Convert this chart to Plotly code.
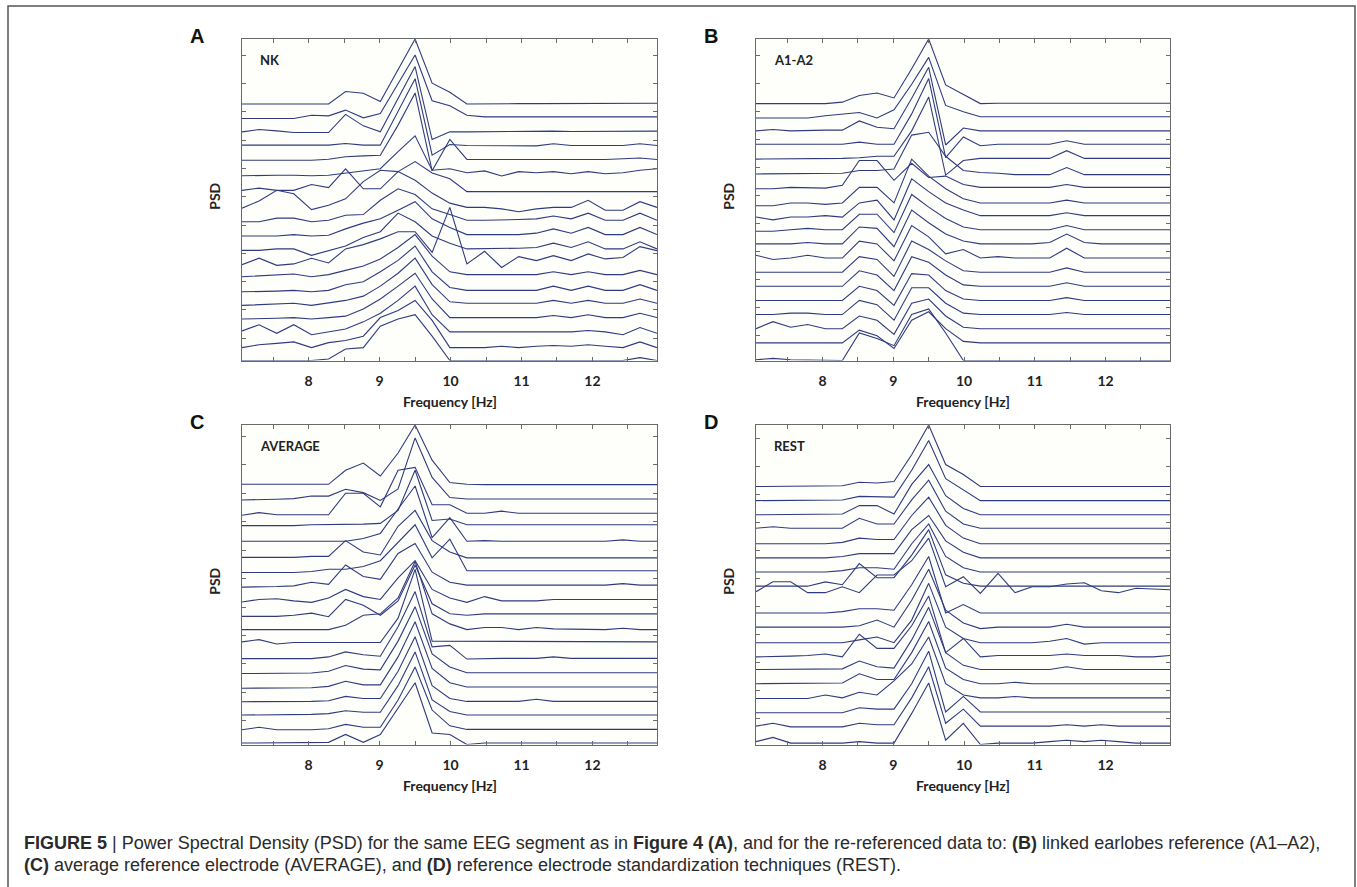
import plotly.graph_objects as go

# ---------------- data ----------------
FREQ = [7.06, 7.30, 7.55, 7.79, 8.04, 8.28, 8.52, 8.77, 9.01, 9.26, 9.50, 9.74, 9.99,
        10.23, 10.48, 10.72, 10.96, 11.21, 11.45, 11.70, 11.94, 12.18, 12.43, 12.67, 12.91]
X_TICKS = [7.5, 8, 8.5, 9, 9.5, 10, 10.5, 11, 11.5, 12, 12.5]
X_TICK_TEXT = ["", "8", "", "9", "", "10", "", "11", "", "12", ""]
STACK_STEP = 1.0

# PSD of each channel (bottom channel first), arbitrary units
NK = [
    [.3,.3,.3,.35,.3,.4,1.1,1.2,2.7,3.2,3.5,2.0,.3,.3,.3,.3,.3,.3,.3,.3,.3,.3,.3,.5,.3],
    [.2,.4,.5,.6,.2,.55,.7,1.0,2.3,2.8,3.5,2.1,.2,.2,.2,.3,.2,.3,.35,.3,.4,.3,.2,.6,.2],
    [.37,.8,.2,.8,.1,.3,.5,1.0,1.6,2.5,3.5,1.5,.3,.3,.3,.3,.3,.3,.3,.3,.4,.3,.1,.6,.2],
    [.2,.2,.25,.3,.2,.3,.4,.9,1.6,2.5,3.4,1.6,.3,.3,.3,.3,.3,.3,.45,.3,.5,.3,.3,.6,.3],
    [.15,.2,.25,.3,.15,.3,.5,.8,1.5,2.4,3.45,1.6,.4,.3,.3,.3,.3,.3,.5,.3,.5,.3,.3,.6,.3],
    [.1,.1,.15,.2,.1,.2,.6,.8,1.5,2.3,3.3,1.5,.4,.2,.2,.2,.2,.2,.5,.2,.5,.2,.2,.6,.2],
    [.15,.2,.25,.35,.15,.3,.6,.9,1.4,2.2,3.1,1.6,.5,.3,.3,.3,.3,.3,.5,.3,.5,.3,.3,.6,.3],
    [0,.45,-.05,.05,.45,.12,1.1,1.4,1.8,2.3,2.3,.86,4.0,.05,.93,-.2,.56,.28,.63,.28,.75,.4,.5,1.26,.98],
    [0,0,.1,.1,-.35,0,.3,.9,1.3,2.6,2.0,1.0,.5,.1,.1,.1,.15,.2,.5,.2,.6,.1,.1,.6,.1],
    [0,0,0,.1,0,.05,.5,.9,1.2,1.8,2.4,1.2,.6,.1,.1,.1,.1,.2,.5,.2,.6,.1,.1,.6,.1],
    [0,.0,.25,.25,0,.1,.45,.5,1.5,2.3,1.9,.9,.5,.1,.1,.1,.15,.2,.4,.2,.6,.1,.1,.6,.1],
    [-.05,.45,1.2,.95,-.15,.15,.6,1.8,2.6,2.5,1.9,1.0,.3,.0,.0,-.1,-.3,-.1,.0,.0,.5,-.2,-.2,.4,0],
    [.19,.35,.19,.19,.6,.38,1.7,.3,.3,1.5,2.2,1.4,1.0,.1,.1,.1,.1,.1,.1,.1,.1,.1,.1,.1,.1],
    [.21,.25,.25,.25,.21,.25,.4,.55,.7,1.9,3.0,.6,.7,.42,.55,.2,.5,.42,.5,.35,.5,.35,.42,.6,.7],
    [.3,.3,.3,.3,.3,.37,.54,.6,.65,2.75,5.0,-.44,1.75,.35,.35,.35,.3,.35,.35,.35,.35,.35,.4,.45,.35],
    [.35,.35,.35,.3,.3,.35,.47,.35,.35,2.7,5.0,-.35,.4,.33,.33,.35,.3,.3,.45,.33,.33,.33,.33,.45,.33],
    [.28,.44,.35,.23,.23,.23,1.5,.7,.28,2.6,4.84,-.26,.28,.28,.3,.3,.33,.35,.33,.3,.3,.33,.33,.33,.33],
    [.21,.21,.21,.21,.44,.4,.8,.26,.56,2.6,4.65,1.45,1.1,.44,.33,.33,.33,.35,.33,.33,.33,.33,.33,.33,.33],
    [.23,.23,.23,.23,.23,.23,1.1,.98,.4,2.6,4.77,1.68,1.05,.23,.25,.25,.25,.25,.25,.25,.25,.25,.25,.25,.28],
]

A1A2 = [
    [.1,.2,.1,.1,.05,.05,2.0,1.6,1.1,3.3,3.7,2.0,.05,.05,.05,.05,.05,.05,.05,.05,.05,.05,.05,.05,.05],
    [.3,.3,.3,.3,.3,.3,1.2,.8,-.1,1.9,2.5,1.3,.4,.3,.3,.3,.3,.3,.3,.3,.3,.3,.3,.3,.3],
    [.3,.8,.4,.6,.3,.3,1.2,.9,-.1,2.1,2.4,1.2,.4,.3,.3,.3,.3,.3,.35,.3,.3,.3,.3,.3,.3],
    [.3,.3,.4,.4,.3,.3,1.3,1.0,-.1,2.2,2.2,1.1,.4,.3,.3,.3,.3,.3,.45,.3,.3,.3,.3,.3,.3],
    [.3,.3,.3,.3,.3,.3,1.3,1.0,-.05,2.2,2.1,1.0,.4,.3,.3,.3,.3,.3,.5,.3,.3,.3,.3,.3,.3],
    [.3,.3,.3,.3,.3,.3,1.4,1.1,0,2.4,2.0,1.1,.4,.3,.3,.3,.3,.3,.55,.3,.3,.3,.3,.3,.3],
    [.3,.3,.3,.3,.3,.3,1.4,1.2,0,2.5,1.9,1.1,.4,.3,.3,.3,.3,.3,.6,.3,.3,.3,.3,.3,.3],
    [.5,.2,.3,.5,.3,.3,1.5,1.3,.1,2.6,1.8,.6,.9,.3,.4,.3,.3,.3,1.0,.3,.3,.3,.3,.3,.3],
    [.3,.3,.3,.4,.3,.3,1.5,1.4,.1,2.7,1.8,1.0,.5,.3,.3,.3,.3,.4,1.0,.4,.3,.3,.3,.3,.3],
    [.2,.2,.3,.4,.3,.3,1.4,1.4,.1,2.8,1.9,1.1,.5,.3,.3,.3,.3,.3,.6,.3,.3,.3,.3,.3,.3],
    [.2,.0,.2,.2,.3,.2,1.2,1.4,0,2.9,2.0,1.2,.7,.3,.3,.3,.3,.3,.5,.3,.3,.3,.3,.3,.3],
    [.0,.0,.2,.2,.1,.2,1.3,1.3,.2,3.3,2.1,1.2,.5,.2,.2,.2,.2,.2,.4,.2,.2,.2,.2,.2,.2],
    [.2,.2,.3,.3,.25,.45,2.2,2.2,.8,2.0,1.0,1.1,.5,.3,.3,.3,.3,.3,.5,.3,.3,.3,.3,.3,.3],
    [.25,.25,.25,.25,.3,.3,.5,.5,.6,3.0,3.2,1.5,.5,.35,.3,.2,.2,.2,.7,.2,.2,.2,.2,.2,.2],
    [.3,.3,.3,.3,.35,.35,.4,.5,.5,2.3,4.7,-.83,.2,.35,.35,.35,.35,.35,.9,.35,.35,.35,.35,.35,.35],
    [.35,.35,.35,.35,.35,.35,.5,.35,.35,2.5,5.0,-.6,.87,.25,.35,.35,.35,.35,.6,.35,.35,.35,.35,.35,.35],
    [.3,.4,.3,.35,.35,.35,1.0,.55,.45,2.6,4.8,-.7,.5,.3,.3,.3,.3,.35,.3,.3,.3,.3,.3,.3,.3],
    [.21,.21,.21,.21,.37,.49,.6,.21,.79,2.6,4.5,1.1,.65,.3,.3,.3,.3,.3,.3,.3,.3,.3,.3,.3,.3],
    [.23,.23,.23,.23,.23,.33,.8,.98,.63,2.7,4.8,1.55,.9,.23,.25,.25,.25,.25,.25,.25,.25,.25,.25,.25,.25],
]

AVERAGE = [
    [.3,.3,.3,.3,.3,.35,.9,.35,.9,2.7,4.5,1.0,.9,.2,.3,.3,.3,.3,.3,.3,.3,.3,.3,.3,.3],
    [.23,.4,.23,.23,.23,.3,.6,.4,.4,2.3,4.6,1.6,.5,.25,.25,.25,.25,.25,.25,.25,.25,.25,.25,.25,.25],
    [.25,.25,.25,.25,.3,.35,.55,.45,.45,2.3,4.65,1.3,.5,.25,.25,.25,.25,.3,.25,.25,.3,.25,.25,.25,.25],
    [.18,.18,.18,.18,.2,.25,.55,.4,.4,2.3,4.7,1.3,.4,.2,.2,.2,.2,.35,.2,.2,.2,.2,.2,.2,.2],
    [.12,.12,.12,.12,.15,.25,.6,.35,.35,2.3,4.75,1.5,.5,.2,.2,.2,.2,.2,.2,.2,.2,.2,.2,.2,.2],
    [.14,.14,.14,.14,.18,.3,.7,.45,.4,2.4,4.8,1.5,.6,.2,.2,.2,.2,.2,.2,.2,.2,.2,.2,.2,.2],
    [.18,.18,.18,.18,.18,.3,.65,.45,.35,2.4,4.85,1.0,1.1,.15,.2,.2,.2,.2,.3,.2,.2,.2,.15,.2,.2],
    [.35,.5,.2,.3,.3,.3,.3,.3,.3,2.0,5.4,.4,.4,.35,.35,.35,.35,.35,.35,.35,.35,.35,.35,.35,.35],
    [.2,.2,.2,.2,.2,.2,.5,1.2,1.3,2.4,4.95,1.3,.6,.2,.35,.35,.2,.35,.25,.25,.2,.2,.3,.2,.2],
    [.12,.12,.12,.2,.35,.1,1.3,.9,.2,1.2,3.7,1.0,.3,.2,.3,.3,.3,.3,.3,.3,.3,.3,.3,.3,.3],
    [.12,.3,.35,.2,.1,.4,1.0,.5,.3,1.8,3.0,1.0,.4,.1,.5,.2,.2,.2,.3,.3,.3,.3,.3,.3,.3],
    [.16,.16,.2,.25,.5,.35,1.7,.9,.7,2.5,3.2,1.2,.5,.3,.3,.3,.3,.3,.3,.3,.3,.3,.4,.3,.3],
    [.18,.18,.18,.18,.25,.4,.4,.6,1.0,2.3,3.5,1.2,2.5,.3,.3,.3,.3,.3,.3,.3,.3,.3,.3,.3,.3],
    [.23,.23,.23,.23,.3,.3,1.4,.6,.4,2.4,3.5,1.4,.6,.2,.2,.2,.2,.2,.2,.2,.2,.2,.2,.2,.2],
    [.35,.35,.35,.35,.4,.35,.35,.55,.9,2.6,4.2,.6,2.0,.35,.4,.35,.35,.35,.35,.35,.35,.35,.45,.35,.35],
    [.44,.44,.44,.44,.5,.5,.55,.55,.6,1.5,4.3,.8,.9,.5,.5,.5,.5,.5,.5,.5,.5,.5,.5,.5,.5],
    [.16,.35,.2,.2,.2,.2,1.7,1.7,.75,3.3,3.5,.9,.9,.3,.3,.45,.3,.3,.3,.3,.3,.3,.3,.3,.3],
    [.23,.23,.28,.32,.5,.5,.97,.74,.2,1.0,4.55,1.8,.4,.3,.3,.3,.3,.3,.3,.3,.3,.3,.3,.3,.3],
    [.32,.32,.32,.32,.32,.32,1.3,1.8,.9,2.5,4.45,2.0,.44,.32,.3,.3,.3,.3,.3,.3,.3,.3,.3,.35,.3],
]

REST = [
    [.2,.5,.1,.1,.1,.1,.2,.1,.1,2.2,4.35,.3,1.5,.0,.1,.1,.1,.2,.3,.2,.3,.2,.1,.1,.1],
    [.3,.5,.25,.25,.25,.25,.5,.4,.4,2.3,4.5,.5,1.5,.3,.3,.3,.3,.3,.4,.3,.4,.3,.3,.3,.3],
    [.25,.25,.25,.25,.25,.25,.6,.5,.5,2.3,4.6,.3,1.4,.3,.3,.3,.3,.3,.3,.3,.3,.3,.3,.3,.3],
    [.25,.25,.25,.25,.5,.3,.7,.5,1.5,2.7,4.6,1.3,.5,.3,.3,.4,.3,.3,.3,.3,.3,.3,.3,.3,.3],
    [.3,.3,.3,.3,.3,.35,1.0,.6,.6,2.5,4.7,1.4,.6,.3,.3,.4,.3,.3,.3,.3,.3,.3,.3,.3,.3],
    [.3,.3,.3,.3,.3,.35,.9,.5,.4,2.4,4.7,1.5,.6,.3,.3,.3,.3,.3,.5,.3,.3,.3,.3,.3,.3],
    [.2,.2,.25,.3,.4,.2,1.8,.8,.8,2.4,4.5,.5,1.5,.2,.3,.3,.3,.3,.4,.3,.3,.3,.2,.2,.3],
    [.2,.2,.2,.2,.2,.2,.4,.6,.2,1.8,4.4,1.3,.5,.2,.2,.2,.2,.3,.5,.1,.2,.2,.2,.2,.2],
    [.3,.3,.3,.3,.3,.3,.4,.8,.3,2.2,4.4,1.5,.6,.2,.3,.3,.3,.3,.5,.3,.3,.3,.3,.3,.3],
    [.3,.3,.3,.3,.3,.4,.6,.6,.5,2.3,4.3,.3,.9,.3,.3,.3,.3,.3,.3,.3,.3,.3,.3,.3,.3],
    [.81,1.51,1.51,.74,.74,1.16,.74,1.99,1.99,3.0,4.6,1.16,1.87,.69,2.1,.74,1.16,1.16,1.35,1.44,.88,.74,1.05,1.0,.95],
    [.2,.2,.2,.2,.5,.3,1.8,.8,.8,2.4,4.2,1.0,.4,.2,.2,.2,.2,.2,.2,.2,.2,.2,.2,.2,.2],
    [.2,.2,.2,.2,.2,.3,.5,.5,.4,2.2,3.6,1.3,.5,.2,.2,.2,.2,.2,.2,.2,.2,.2,.2,.2,.2],
    [.2,.2,.2,.2,.2,.3,.5,.5,.5,2.2,3.2,1.4,.6,.2,.2,.2,.2,.2,.2,.2,.2,.2,.2,.2,.2],
    [.2,.2,.2,.2,.2,.3,.6,.5,.5,2.2,3.5,1.5,.6,.2,.2,.2,.2,.2,.2,.2,.2,.2,.2,.2,.2],
    [.3,.4,.3,.3,.3,.3,1.0,.6,.6,2.3,3.7,1.5,.6,.3,.3,.3,.3,.3,.3,.3,.3,.3,.3,.3,.3],
    [.25,.25,.25,.25,.25,.3,.9,.9,.3,2.4,3.8,1.6,.7,.25,.25,.25,.25,.25,.25,.25,.25,.25,.25,.25,.25],
    [.25,.25,.25,.25,.25,.3,.55,.5,.5,2.4,4.5,1.8,1.0,.25,.25,.25,.25,.25,.25,.25,.25,.25,.25,.25,.25],
    [.25,.25,.25,.25,.25,.3,.55,.5,.6,2.5,4.6,1.8,1.1,.25,.25,.25,.25,.25,.25,.25,.25,.25,.25,.25,.25],
]

PANELS = [("A", "NK", NK), ("B", "A1-A2", A1A2), ("C", "AVERAGE", AVERAGE), ("D", "REST", REST)]

# ---------------- layout geometry (pixels) ----------------
W, H = 1357, 887
BOXES = [(242, 657, 39, 360.5), (756, 1170, 39, 360.5), (242, 657, 425, 744.5), (756, 1170, 425, 744.5)]
LINE_COLOR = "#2f3b7e"
AX_COLOR = "#6a6a6a"
LABEL_FONT = "Lato, Open Sans, sans-serif"

def px(x):
    return x / W

def py(y):
    return 1 - y / H

fig = go.Figure()
annotations = []
for p, (letter, name, traces) in enumerate(PANELS):
    sfx = "" if p == 0 else str(p + 1)
    all_y = []
    for k, psd in enumerate(traces):
        yv = [v + k * STACK_STEP for v in psd]
        all_y += yv
        fig.add_trace(go.Scatter(x=FREQ, y=yv, mode="lines",
                                 line=dict(color=LINE_COLOR, width=1.1),
                                 xaxis="x" + sfx, yaxis="y" + sfx,
                                 showlegend=False, hoverinfo="skip"))
    x0, x1, y0, y1 = BOXES[p]
    ymin, ymax = min(all_y), max(all_y)
    fig.layout["xaxis" + sfx] = dict(
        domain=[px(x0), px(x1)], range=[FREQ[0], FREQ[-1]], anchor="y" + sfx,
        showline=True, mirror="ticks", linecolor=AX_COLOR, linewidth=1,
        ticks="inside", ticklen=4, tickcolor=AX_COLOR, tickwidth=1,
        tickvals=X_TICKS, ticktext=X_TICK_TEXT, showgrid=False, zeroline=False,
        tickfont=dict(family=LABEL_FONT, size=14, color="#222", weight="bold"),
        ticklabelstandoff=8)
    fig.layout["yaxis" + sfx] = dict(
        domain=[py(y1), py(y0)], range=[ymin, ymax], anchor="x" + sfx,
        showline=True, mirror="ticks", linecolor=AX_COLOR, linewidth=1,
        ticks="inside", ticklen=4, tickcolor=AX_COLOR, tickwidth=1,
        tick0=1.85, dtick=1.98, showticklabels=False, showgrid=False, zeroline=False)
    cx = (x0 + x1) / 2
    cy = (y0 + y1) / 2
    annotations += [
        dict(text="<b>%s</b>" % letter, x=px(x0 - 45), y=py(y0 - 3), xref="paper", yref="paper",
             xanchor="center", yanchor="middle", showarrow=False,
             font=dict(family="Liberation Sans, Arial, sans-serif", size=20, color="#111")),
        dict(text="<b>%s</b>" % name, x=px(x0 + 16), y=py(y0 + 21), xref="paper", yref="paper",
             xanchor="left", yanchor="middle", showarrow=False,
             font=dict(family=LABEL_FONT, size=13, color="#222")),
        dict(text="<b>PSD</b>", x=px(x0 - 27), y=py(cy - 3), xref="paper", yref="paper",
             xanchor="center", yanchor="middle", textangle=-90, showarrow=False,
             font=dict(family=LABEL_FONT, size=14, color="#222")),
        dict(text="<b>Frequency [Hz]</b>", x=px(cx), y=py(y1 + 41), xref="paper", yref="paper",
             xanchor="center", yanchor="middle", showarrow=False,
             font=dict(family=LABEL_FONT, size=14, color="#222")),
    ]

CAPTION_1 = ("<b>FIGURE 5</b> | Power Spectral Density (PSD) for the same EEG segment as in "
             "<b>Figure 4 (A)</b>, and for the re-referenced data to: <b>(B)</b> linked earlobes "
             "reference (A1–A2),")
CAPTION_2 = ("<b>(C)</b> average reference electrode (AVERAGE), and <b>(D)</b> reference electrode "
             "standardization techniques (REST).")
cap_font = dict(family="Liberation Sans Narrow, Arial Narrow, Liberation Sans, sans-serif", size=18, color="#2a2a2a")
annotations += [
    dict(text=CAPTION_1, x=px(22), y=py(843), xref="paper", yref="paper", xanchor="left",
         yanchor="middle", showarrow=False, font=cap_font),
    dict(text=CAPTION_2, x=px(22), y=py(865), xref="paper", yref="paper", xanchor="left",
         yanchor="middle", showarrow=False, font=cap_font),
]

fig.update_layout(
    width=W, height=H, margin=dict(l=0, r=0, t=0, b=0),
    paper_bgcolor="white", plot_bgcolor="#fefefb",
    annotations=annotations,
    shapes=[dict(type="rect", xref="paper", yref="paper", x0=px(8), x1=px(1355), y0=py(895), y1=py(6),
                 line=dict(color="#555", width=1.5), fillcolor="rgba(0,0,0,0)", layer="below")],
)

fig.write_html("out.html", config={"displayModeBar": False},
               post_script="document.body.style.margin='0';document.body.style.overflow='hidden';")
